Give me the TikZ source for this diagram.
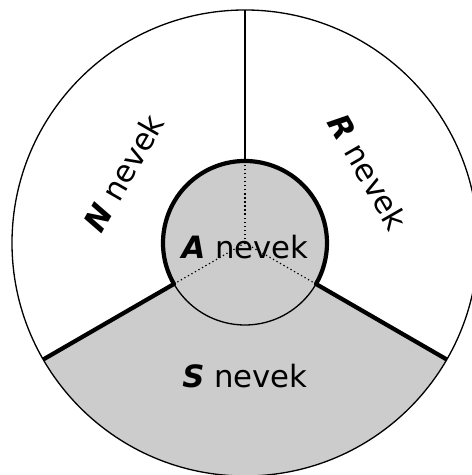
\documentclass[tikz,border=0pt]{standalone}
\usepackage{fontspec}
\setmainfont{DejaVu Sans}
\usepackage{tikz}
\usetikzlibrary{positioning, calc}
\definecolor{sectorGrey}{RGB}{204, 204, 204}
\newcommand{\myKeyL}[1]{\textbf{\textit{#1}}}
\tikzstyle{thinline} = [line width=0.75pt]
\tikzstyle{thickline} = [line width=2.4pt, line join=round]
\tikzstyle{dotline} = [line width=0.7pt, dash pattern=on 0.7pt off 1.6pt]
\tikzstyle{label} = [inner sep=0pt, font=\fontsize{17.5}{21}\selectfont]

\begin{document}
\begin{tikzpicture}[x=0.02cm, y=0.02cm]
\useasboundingbox (-245,-232) rectangle (226,243);

\coordinate (ctr) at (0,0);
\coordinate (top) at (90:233);
\coordinate (inTop) at (90:82);
\coordinate (inLeft) at (210:82);
\coordinate (inRight) at (330:82);
\coordinate (outLeft) at (210:233);
\coordinate (outRight) at (330:233);

% grey parts
\fill [sectorGrey] (ctr) -- (outLeft) arc (210:330:233) -- cycle;
\fill [sectorGrey] (ctr) circle (82);

\draw [dotline] (ctr) -- (inTop);
\draw [dotline] (ctr) -- (inLeft);
\draw [dotline] (ctr) -- (inRight);

\draw [thinline] (ctr) circle (233);
\draw [thinline] (ctr) circle (82);
\draw [thinline] (inTop) -- (top);
\draw [thickline] (outLeft) -- (inLeft) arc (210:-30:82) -- (outRight);

\node (lblN) [label, rotate=60] at (150:140) {\myKeyL{N} nevek};
\node (lblR) [label, rotate=-60] at (30:142) {\myKeyL{R} nevek};
\node (lblS) [label] at (270:133) {\myKeyL{S} nevek};
\node (lblA) [label] at (0,-4) {\myKeyL{A} nevek};

\end{tikzpicture}
\end{document}
